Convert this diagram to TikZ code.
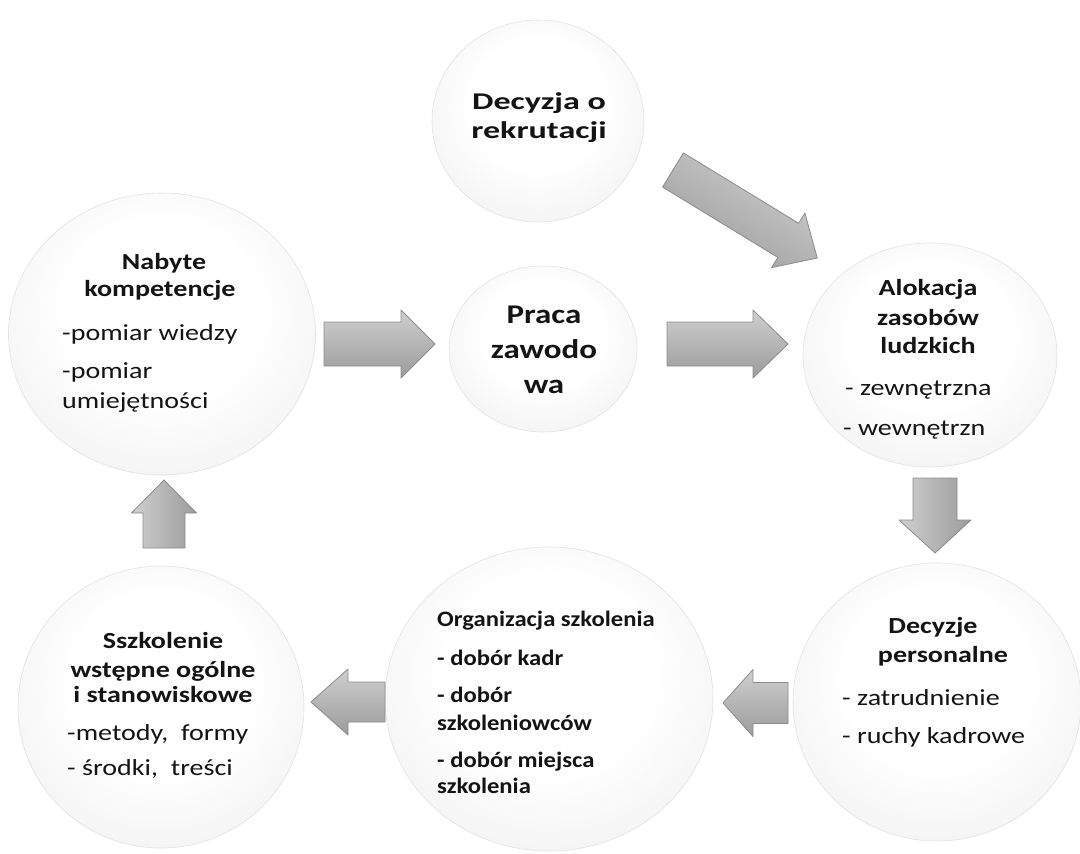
\documentclass[tikz,border=0pt]{standalone}
\usepackage{fontspec}
\setmainfont{Carlito}
\newfontfamily\fA[FakeStretch=1.22]{Carlito}
\newfontfamily\fB[FakeStretch=1.42]{Carlito}
\newfontfamily\fC[FakeStretch=1.12]{Carlito}
\usetikzlibrary{shapes.geometric}
\pgfdeclareradialshading{orb}{\pgfpoint{0bp}{6bp}}{color(0bp)=(white); color(16bp)=(white); color(28bp)=(gray!8); color(36bp)=(gray!20); color(42bp)=(gray!36); color(48bp)=(gray!52); color(54bp)=(gray!62)}
\newcommand\blockarr[8]{%
  \begin{scope}[shift={(#1,#2)},rotate=#3]
    \shade[arrowsty,shading angle=#8] (0,-#5) -- ({#4-#7},-#5) -- ({#4-#7},-#6) -- (#4,0) -- ({#4-#7},#6) -- ({#4-#7},#5) -- (0,#5) -- cycle;
  \end{scope}}
\begin{document}
\begin{tikzpicture}[x=1pt,y=-1pt,
  orbnode/.style={ellipse, inner sep=0pt, shade, shading=orb, draw=gray!22, line width=0.6pt},
  arrowsty/.style={top color=gray!38, bottom color=gray!78, draw=gray!90, line width=0.8pt, line join=round},
  tc/.style={anchor=base, inner sep=0pt, text=black!92},
  tw/.style={anchor=base west, inner sep=0pt, text=black!92},
  ft/.style={font=\fA\bfseries\fontsize{23}{28}\selectfont},
  fr/.style={font=\fA\fontsize{23}{28}\selectfont}]
\useasboundingbox (0,0) rectangle (1080,854);
\fill[white] (0,0) rectangle (1080,854);

% circles
\node[orbnode, minimum width=212pt, minimum height=202pt] (c1) at (538,121) {};
\node[orbnode, minimum width=307pt, minimum height=282pt] (c2) at (162,334) {};
\node[orbnode, minimum width=188pt, minimum height=166pt] (c3) at (543,349) {};
\node[orbnode, minimum width=254pt, minimum height=224pt] (c4) at (930,355) {};
\node[orbnode, minimum width=288pt, minimum height=278pt] (c5) at (937,702) {};
\node[orbnode, minimum width=328pt, minimum height=304pt] (c6) at (549,699) {};
\node[orbnode, minimum width=286pt, minimum height=282pt] (c7) at (161,707) {};

% arrows
\blockarr{673}{170}{-31.4}{169}{20}{32}{34}{-31.4}
\blockarr{324}{344}{0}{111}{22}{34}{34}{0}
\blockarr{667}{344}{0}{121}{22}{34}{35}{0}
\blockarr{935}{478}{-90}{75}{22}{36}{33}{90}
\blockarr{788}{703}{180}{65}{20.5}{33.5}{30}{0}
\blockarr{385}{702}{180}{74}{20}{33}{37}{0}
\blockarr{164}{548}{90}{68}{21}{32.5}{33}{90}

% texts
\node[tc, font=\fB\bfseries\fontsize{24}{29}\selectfont] (t1a) at (539,109) {Decyzja o};
\node[tc, font=\fB\bfseries\fontsize{24}{29}\selectfont] (t1b) at (539,138) {rekrutacji};

\node[tc, ft] (t2a) at (164,269) {Nabyte};
\node[tc, ft] (t2b) at (160,296) {kompetencje};
\node[tw, fr] (t2c) at (62,340) {-pomiar wiedzy};
\node[tw, fr] (t2d) at (62,378) {-pomiar};
\node[tw, fr] (t2e) at (62,408) {umiejętności};

\node[tc, font=\fA\bfseries\fontsize{27}{33}\selectfont] (t3a) at (544,323) {Praca};
\node[tc, font=\fA\bfseries\fontsize{27}{33}\selectfont] (t3b) at (544,358) {zawodo};
\node[tc, font=\fA\bfseries\fontsize{27}{33}\selectfont] (t3c) at (544,393) {wa};

\node[tc, ft] (t4a) at (928,295) {Alokacja};
\node[tc, ft] (t4b) at (928,325) {zasobów};
\node[tc, ft] (t4c) at (928,353) {ludzkich};
\node[tw, fr] (t4d) at (845,395) {- zewnętrzna};
\node[tw, fr] (t4e) at (843,435) {- wewnętrzn};

\node[tc, ft] (t5a) at (933,633) {Decyzje};
\node[tc, ft] (t5b) at (943,662) {personalne};
\node[tw, fr] (t5c) at (842,705) {- zatrudnienie};
\node[tw, fr] (t5d) at (842,743) {- ruchy kadrowe};

\node[tw, font=\fC\bfseries\fontsize{22}{27}\selectfont] (t6a) at (437,626) {Organizacja szkolenia};
\node[tw, font=\fC\bfseries\fontsize{22}{27}\selectfont] (t6b) at (437,665) {- dobór kadr};
\node[tw, font=\fC\bfseries\fontsize{22}{27}\selectfont] (t6c) at (437,702) {- dobór};
\node[tw, font=\fC\bfseries\fontsize{22}{27}\selectfont] (t6d) at (437,730) {szkoleniowców};
\node[tw, font=\fC\bfseries\fontsize{22}{27}\selectfont] (t6e) at (437,767) {- dobór miejsca};
\node[tw, font=\fC\bfseries\fontsize{22}{27}\selectfont] (t6f) at (437,793) {szkolenia};

\node[tc, ft] (t7a) at (163,648) {Sszkolenie};
\node[tc, ft] (t7b) at (163,677) {wstępne ogólne};
\node[tc, ft] (t7c) at (163,702) {i stanowiskowe};
\node[tw, fr] (t7d) at (67,740) {-metody,~ formy};
\node[tw, fr] (t7e) at (67,775) {- środki,~ treści};
\end{tikzpicture}
\end{document}
